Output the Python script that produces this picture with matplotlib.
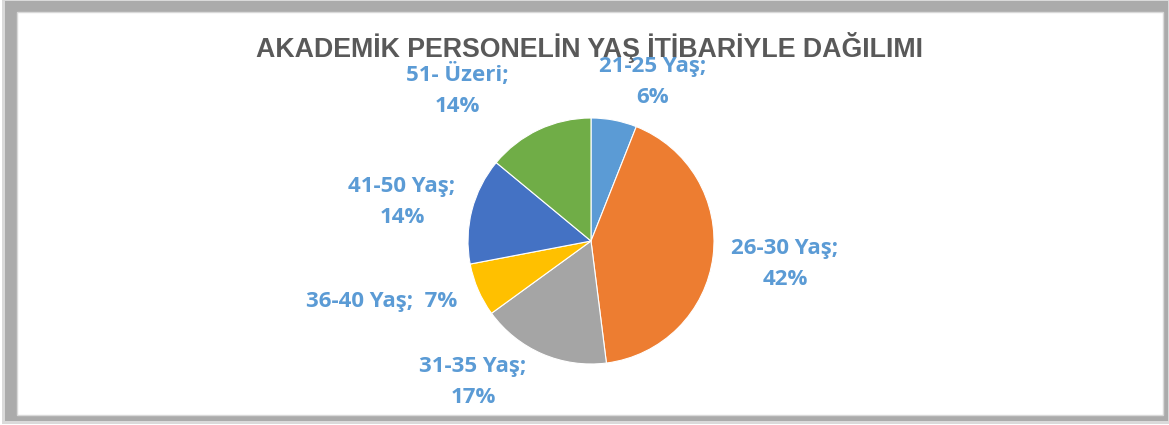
import matplotlib
matplotlib.use("Agg")
import matplotlib.pyplot as plt
from matplotlib.patches import Rectangle

title = "AKADEMİK PERSONELİN YAŞ İTİBARİYLE DAĞILIMI"
categories = ["21-25 Yaş", "26-30 Yaş", "31-35 Yaş", "36-40 Yaş", "41-50 Yaş", "51- Üzeri"]
values = [6, 42, 17, 7, 14, 14]
colors = ["#5B9BD5", "#ED7D31", "#A5A5A5", "#FFC000", "#4472C4", "#70AD47"]

W, H = 1169, 425
fig = plt.figure(figsize=(W / 100, H / 100), dpi=100)
ax = fig.add_axes([0, 0, 1, 1])

def py(y):
    return H - y

# frame with shadow
ax.add_patch(Rectangle((0, 0), W, H, facecolor="white", edgecolor="none", zorder=0))
ax.add_patch(Rectangle((2, py(424)), 1167, 424, facecolor="#DADADA", edgecolor="none", zorder=0.5))
ax.add_patch(Rectangle((5, py(421)), 1163, 420, facecolor="#ABABAB", edgecolor="none", zorder=0.6))
ax.add_patch(Rectangle((16.5, py(415)), 1146.5, 403, facecolor="white", edgecolor="#D9D9D9",
                       linewidth=1.0, zorder=0.7))

# pie
ax.pie(values, colors=colors, startangle=90, counterclock=False,
       center=(591, py(241)), radius=123, frame=True,
       wedgeprops=dict(edgecolor="white", linewidth=0.8))
ax.set_xlim(0, W)
ax.set_ylim(0, H)
ax.set_aspect("auto")
ax.axis("off")

ax.text(589, py(47), title, ha="center", va="center", fontsize=19.3,
        fontweight="bold", color="#595959", family="Liberation Sans", zorder=5)

label_pos = [(653, 82), (785, 264), (473, 382), (382, 302), (402, 202), (457, 90)]
for cat, v, (x, y) in zip(categories, values, label_pos):
    if cat == "36-40 Yaş":
        s = f"{cat};  {v}%"
    else:
        s = f"{cat};\n{v}%"
    ax.text(x, py(y), s, ha="center", va="center", fontsize=16, fontweight="bold",
            color="#5B9BD5", family="Open Sans", linespacing=1.6, zorder=5)

fig.savefig("out.png", dpi=100)
